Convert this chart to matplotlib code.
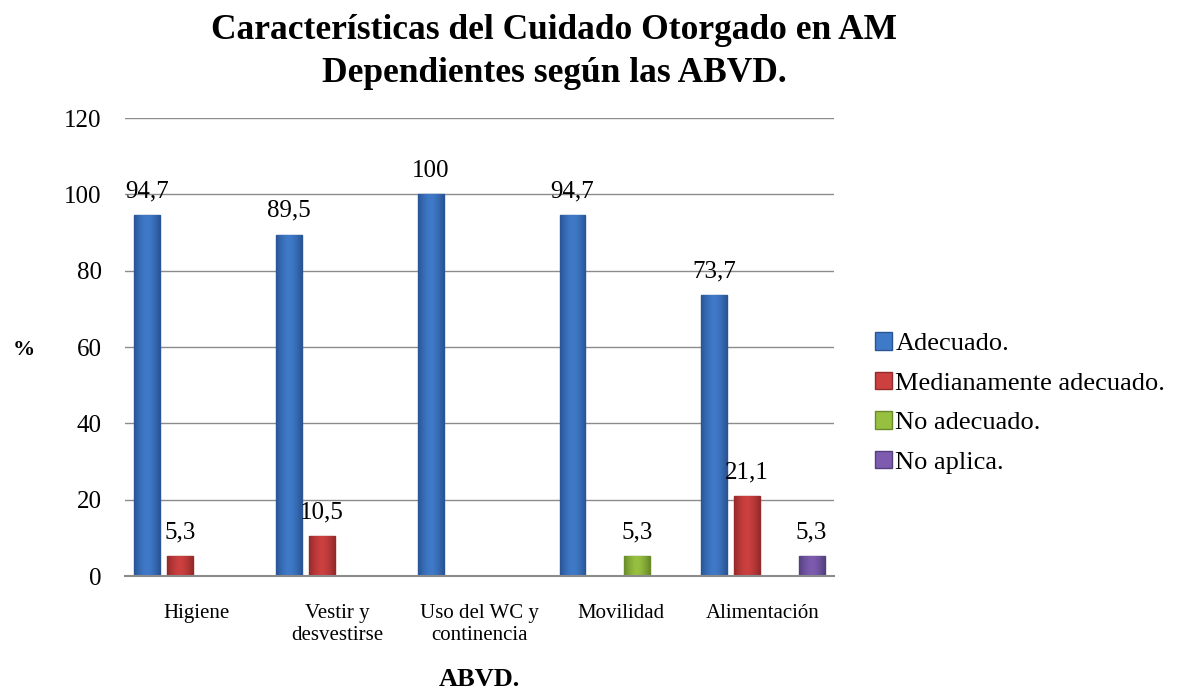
import matplotlib
matplotlib.use('Agg')
import matplotlib.pyplot as plt
from matplotlib.patches import Patch
from matplotlib.colors import to_rgb
import numpy as np

plt.rcParams['font.family'] = ['Liberation Serif', 'DejaVu Serif']

#### DATA ####
categories = ["Higiene", "Vestir y\ndesvestirse", "Uso del WC y\ncontinencia", "Movilidad", "Alimentación"]
series_names = ["Adecuado.", "Medianamente adecuado.", "No adecuado.", "No aplica."]
adecuado = [94.7, 89.5, 100, 94.7, 73.7]
medianamente = [5.3, 10.5, 0, 0, 21.1]
no_adecuado = [0, 0, 0, 5.3, 0]
no_aplica = [0, 0, 0, 0, 5.3]
y_ticks = [0, 20, 40, 60, 80, 100, 120]

series = [adecuado, medianamente, no_adecuado, no_aplica]
colors = ["#3f7ac8", "#cc4040", "#98c040", "#7d5cb0"]
edges = ["#2a5595", "#962a2a", "#688a2a", "#55407e"]


def shade(ax, bar, light, dark):
    # horizontal gradient, dark at the sides, clipped to the bar
    t = np.abs(np.linspace(-1, 1, 64)) ** 1.6
    lc, dc = np.array(to_rgb(light)), np.array(to_rgb(dark))
    img = (lc[None, :] * (1 - t[:, None]) + dc[None, :] * t[:, None])[None, :, :]
    x0, w, h = bar.get_x(), bar.get_width(), bar.get_height()
    im = ax.imshow(img, extent=(x0, x0 + w, 0, h), aspect="auto", zorder=3.5, interpolation="bilinear")
    im.set_clip_path(bar)


fig = plt.figure(figsize=(11.81, 6.95), dpi=100)
ax = fig.add_axes([0.106, 0.171, 0.600, 0.659])

x = np.arange(len(categories))
step = 0.229
width = 0.183
for i, vals in enumerate(series):
    off = (i - 1.5) * step
    for xi, v in zip(x, vals):
        if v == 0:
            continue
        b = ax.bar(xi + off, v, width=width, color=colors[i], edgecolor=edges[i], linewidth=1, zorder=3)[0]
        shade(ax, b, colors[i], edges[i])
        ax.annotate(f"{v:g}".replace(".", ","), (xi + off, v), xytext=(0, 17), textcoords="offset points",
                    ha="center", va="center", fontsize=18, zorder=4)

ax.set_xlim(-0.5, len(categories) - 0.5)
ax.set_ylim(0, 120)
ax.set_yticks(y_ticks)
ax.set_xticks(x)
ax.set_xticklabels(categories, fontsize=15, linespacing=1.2)
ax.tick_params(axis="y", labelsize=18, length=0, pad=17)
ax.tick_params(axis="x", length=0, pad=20)
ax.yaxis.grid(True, color="#8c8c8c", linewidth=1.0, zorder=0)
ax.set_axisbelow(True)
for s in ["top", "right", "left"]:
    ax.spines[s].set_visible(False)
ax.spines["bottom"].set_color("#8c8c8c")
ax.spines["bottom"].set_linewidth(1.5)
ax.spines["bottom"].set_zorder(5)

fig.text(0.469, 1 - 39 / 695, "Características del Cuidado Otorgado en AM",
         ha="center", va="baseline", fontsize=25.5, fontweight="bold")
fig.text(0.469, 1 - 82 / 695, "Dependientes según las ABVD.",
         ha="center", va="baseline", fontsize=25.5, fontweight="bold")
fig.text(24 / 1181, 1 - 350 / 695, "%", ha="center", va="center", fontsize=16, fontweight="bold")
fig.text(479 / 1181, 1 - 679 / 695, "ABVD.", ha="center", va="center", fontsize=19, fontweight="bold")

handles = [Patch(facecolor=c, edgecolor=e) for c, e in zip(colors, edges)]
fig.legend(handles, series_names, loc="center left", bbox_to_anchor=(875 / 1181, 1 - 403 / 695),
           frameon=False, fontsize=19, handlelength=0.65, handleheight=0.65, handletextpad=0.12,
           labelspacing=0.62, borderpad=0, borderaxespad=0)

fig.savefig("out.png", dpi=100)
